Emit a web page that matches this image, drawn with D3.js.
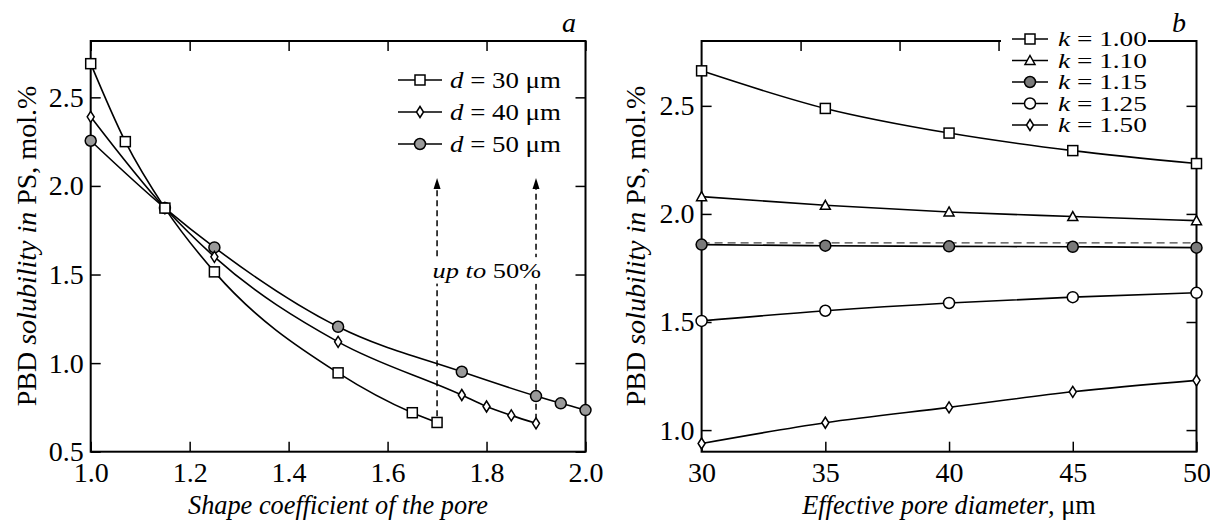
<!DOCTYPE html>
<html>
<head>
<meta charset="utf-8">
<script src="https://cdn.jsdelivr.net/npm/d3@7"></script>
<style>
body { margin: 0; background: #fff; }
svg { display: block; font-family: "Liberation Serif", "Times New Roman", serif; }
text { white-space: pre; }
</style>
</head>
<body>
<svg id="chart" width="1210" height="520"></svg>
<script>
// --- Panel a: solubility vs shape coefficient ---
const d30Shape = [1.0, 1.07, 1.15, 1.25, 1.5, 1.65, 1.7];
const d30Sol   = [2.69, 2.25, 1.875, 1.515, 0.945, 0.72, 0.665];
const d40Shape = [1.0, 1.15, 1.25, 1.5, 1.75, 1.8, 1.85, 1.9];
const d40Sol   = [2.39, 1.875, 1.60, 1.12, 0.82, 0.755, 0.705, 0.66];
const d50Shape = [1.0, 1.15, 1.25, 1.5, 1.75, 1.9, 1.95, 2.0];
const d50Sol   = [2.255, 1.875, 1.653, 1.205, 0.951, 0.814, 0.773, 0.735];
const shapeTicks = [1.0, 1.2, 1.4, 1.6, 1.8, 2.0];
const solTicksA  = [0.5, 1.0, 1.5, 2.0, 2.5];
const arrowShape = [1.7, 1.9];
const arrowFrom  = [0.70, 0.68];
const arrowTo    = 2.045;

// --- Panel b: solubility vs effective pore diameter ---
const diam   = [30, 35, 40, 45, 50];
const k100   = [2.662, 2.488, 2.374, 2.293, 2.233];
const k110   = [2.08, 2.04, 2.009, 1.988, 1.969];
const k115   = [1.858, 1.853, 1.85, 1.848, 1.844];
const k125   = [1.505, 1.552, 1.588, 1.615, 1.635];
const k150   = [0.938, 1.034, 1.105, 1.177, 1.23];
const refLine = 1.866;
const diamTicks    = [30, 35, 40, 45, 50];
const diamTopTicks = [34, 38, 42, 46];
const solTicksB    = [1.0, 1.5, 2.0, 2.5];

const svg = d3.select("#chart");
const FONT = '"Liberation Serif", "Times New Roman", serif';

// text made of [string, italic] parts, with optional horizontal stretch
function addText(g, x, y, parts, o = {}) {
    let tf = `translate(${x},${y})`;
    if (o.rotate) tf += ` rotate(${o.rotate})`;
    tf += ` scale(${o.sx || 1},1)`;
    const t = g.append("text").attr("transform", tf)
        .attr("font-size", o.size || 26)
        .attr("text-anchor", o.anchor || "start");
    parts.forEach(([s, it]) => t.append("tspan").attr("font-style", it ? "italic" : "normal").text(s));
    return t;
}

function marker(g, type, cx, cy) {
    const m = g.append("g").attr("transform", `translate(${cx},${cy})`)
        .attr("stroke", "#000").attr("stroke-width", 1.5);
    if (type === "square") m.append("rect").attr("x", -5).attr("y", -5).attr("width", 10).attr("height", 10).attr("fill", "#fff");
    else if (type === "diamond") m.append("path").attr("d", "M0,-5.5L3.5,0L0,5.5L-3.5,0Z").attr("fill", "#fff");
    else if (type === "triangle") m.append("path").attr("d", "M0,-5L5,4L-5,4Z").attr("fill", "#fff");
    else if (type === "circle") m.append("circle").attr("r", 5.5).attr("fill", "#fff");
    else if (type === "gray") m.append("circle").attr("r", 5.5).attr("fill", "#9a9a9a");
    else if (type === "dark") m.append("circle").attr("r", 5.5).attr("fill", "#7a7a7a");
}

function frame(o) {
    const x = d3.scaleLinear().domain(o.xd).range([o.x0, o.x1]);
    const y = d3.scaleLinear().domain(o.yd).range([o.y1, o.y0]);
    const g = svg.append("g");

    const styleAxis = a => {
        a.attr("font-family", FONT).attr("font-size", 28);
        a.select(".domain").remove();
        a.selectAll("line").attr("stroke-width", 1.5);
        a.selectAll("text").attr("fill", "#000");
    };
    g.append("g").attr("transform", `translate(0,${o.y1})`)
        .call(d3.axisBottom(x).tickValues(o.xt).tickFormat(o.xf).tickSizeInner(-10).tickSizeOuter(0).tickPadding(10))
        .call(styleAxis);
    g.append("g").attr("transform", `translate(0,${o.y0})`)
        .call(d3.axisTop(x).tickValues(o.xtTop || o.xt).tickFormat("").tickSizeInner(-10).tickSizeOuter(0))
        .call(styleAxis);
    g.append("g").attr("transform", `translate(${o.x0},0)`)
        .call(d3.axisLeft(y).tickValues(o.yt).tickFormat(d3.format(".1f")).tickSizeInner(-10).tickSizeOuter(0).tickPadding(7))
        .call(styleAxis);
    g.append("g").attr("transform", `translate(${o.x1},0)`)
        .call(d3.axisRight(y).tickValues(o.yt).tickFormat("").tickSizeInner(-10).tickSizeOuter(0))
        .call(styleAxis);

    g.append("rect").attr("x", o.x0).attr("y", o.y0)
        .attr("width", o.x1 - o.x0).attr("height", o.y1 - o.y0)
        .attr("fill", "none").attr("stroke", "#000").attr("stroke-width", 2);
    return { x, y, g };
}

function series(g, x, y, xs, ys) {
    const pts = xs.map((v, i) => [v, ys[i]]);
    g.append("path").datum(pts)
        .attr("d", d3.line().x(d => x(d[0])).y(d => y(d[1])).curve(d3.curveMonotoneX))
        .attr("fill", "none").attr("stroke", "#000").attr("stroke-width", 1.6);
    return pts;
}

function yTitle(cx, cy) {
    addText(svg, cx, cy, [["PBD ", false], ["solubility in", true], [" PS, mol.%", false]],
        { size: 28, rotate: -90, anchor: "middle" });
}

// ---------- panel a ----------
const A = frame({ x0: 90.7, x1: 585.5, y0: 41, y1: 451.7, xd: [1, 2], yd: [0.5, 2.818],
    xt: shapeTicks, xf: d3.format(".1f"), yt: solTicksA });

// dashed arrows
arrowShape.forEach((sv, i) => {
    const px = A.x(sv), tip = A.y(arrowTo);
    A.g.append("line").attr("x1", px).attr("x2", px).attr("y1", A.y(arrowFrom[i])).attr("y2", tip + 10)
        .attr("stroke", "#000").attr("stroke-width", 1.5).attr("stroke-dasharray", "6,4");
    A.g.append("path").attr("d", `M${px},${tip}L${px + 3.5},${tip + 11}L${px - 3.5},${tip + 11}Z`).attr("fill", "#000");
});
const upX = A.x(1.691), upY = A.y(1.48);
const upTxt = addText(A.g, upX, upY, [["up to", true], [" 50%", false]], { size: 22, sx: 1.2 });
const bb = upTxt.node().getBBox();
A.g.insert("rect", () => upTxt.node()).attr("x", upX - 1).attr("y", upY + bb.y - 1)
    .attr("width", bb.width * 1.2 + 2).attr("height", bb.height + 2).attr("fill", "#fff");

const pA = [
    { xs: d50Shape, ys: d50Sol, m: "gray" },
    { xs: d40Shape, ys: d40Sol, m: "diamond" },
    { xs: d30Shape, ys: d30Sol, m: "square" }
];
pA.forEach(s => series(A.g, A.x, A.y, s.xs, s.ys));
pA.forEach(s => s.xs.forEach((v, i) => marker(A.g, s.m, A.x(v), A.y(s.ys[i]))));

// legend a
const legA = [["30", "square"], ["40", "diamond"], ["50", "gray"]];
legA.forEach(([lab, m], i) => {
    const ly = 80 + i * 32;
    svg.append("line").attr("x1", 398).attr("x2", 442).attr("y1", ly).attr("y2", ly)
        .attr("stroke", "#000").attr("stroke-width", 1.6);
    marker(svg, m, 420, ly);
    addText(svg, 450, ly + 8, [["d", true], [` = ${lab} μm`, false]], { size: 24, sx: 1.12 });
});
addText(svg, 576, 32, [["a", true]], { size: 28, anchor: "end" });

addText(svg, 338, 514, [["Shape coefficient of the pore", true]], { size: 28, sx: 0.94, anchor: "middle" });
yTitle(36, 246);

// ---------- panel b ----------
const B = frame({ x0: 701.6, x1: 1196.5, y0: 41, y1: 451.7, xd: [30, 50], yd: [0.9, 2.8],
    xt: diamTicks, xtTop: diamTopTicks, xf: d3.format("d"), yt: solTicksB });

B.g.append("line").attr("x1", B.x(30)).attr("x2", B.x(50)).attr("y1", B.y(refLine)).attr("y2", B.y(refLine))
    .attr("stroke", "#444").attr("stroke-width", 1.3).attr("stroke-dasharray", "8,5");

const pB = [
    { ys: k100, m: "square", lab: "1.00" },
    { ys: k110, m: "triangle", lab: "1.10" },
    { ys: k115, m: "dark", lab: "1.15" },
    { ys: k125, m: "circle", lab: "1.25" },
    { ys: k150, m: "diamond", lab: "1.50" }
];
pB.forEach(s => series(B.g, B.x, B.y, diam, s.ys));
pB.forEach(s => diam.forEach((v, i) => marker(B.g, s.m, B.x(v), B.y(s.ys[i]))));

// legend b (white box over the top border)
svg.append("rect").attr("x", 1001).attr("y", 27).attr("width", 147).attr("height", 110).attr("fill", "#fff");
pB.forEach((s, i) => {
    const ly = 39 + i * 21.5;
    svg.append("line").attr("x1", 1012).attr("x2", 1048).attr("y1", ly).attr("y2", ly)
        .attr("stroke", "#000").attr("stroke-width", 1.6);
    marker(svg, s.m, 1030, ly);
    addText(svg, 1058, ly + 7, [["k", true], [` = ${s.lab}`, false]], { size: 21, sx: 1.3 });
});
addText(svg, 1186, 32, [["b", true]], { size: 28, anchor: "end" });

addText(svg, 949, 514, [["Effective pore diameter", true], [", μm", false]], { size: 28, sx: 0.94, anchor: "middle" });
yTitle(645, 246);
</script>
</body>
</html>
